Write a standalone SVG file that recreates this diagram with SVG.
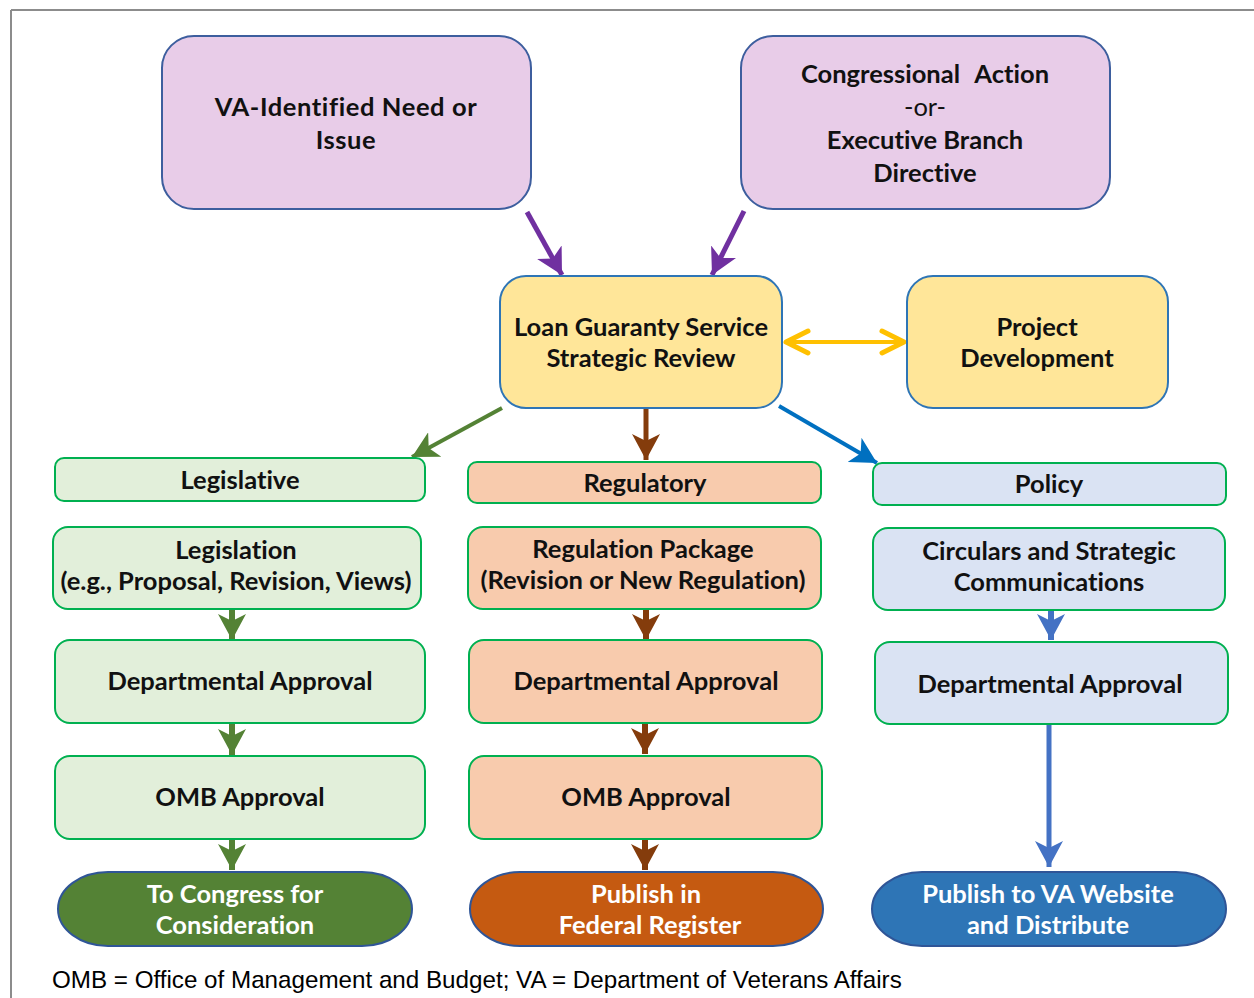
<svg xmlns="http://www.w3.org/2000/svg" width="1254" height="998" viewBox="0 0 1254 998">
<style>
.t{font-family:Lato,"Liberation Sans",sans-serif;font-weight:bold;font-size:25.5px;fill:#111;text-anchor:middle;font-variant-ligatures:none}
.r{font-weight:normal}
.w{fill:#fff}
.purple{fill:#E8CCE8;stroke:#3D5E9E;stroke-width:2}
.yellow{fill:#FFE699;stroke:#2E75B6;stroke-width:2}
.lg{fill:#E2EFDA;stroke:#00B050;stroke-width:2}
.or{fill:#F8CBAD;stroke:#00B050;stroke-width:2}
.bl{fill:#DAE3F3;stroke:#00B050;stroke-width:2}
.ov{stroke:#2F5597;stroke-width:2}
.foot{font-family:"Liberation Sans",Arial,sans-serif;font-size:24.2px;fill:#000}
.c{fill:none}
</style>
<defs>
<marker id="mPurple" markerUnits="userSpaceOnUse" viewBox="0 0 28 28" markerWidth="28" markerHeight="28" refX="26" refY="14" orient="auto"><path d="M0,0 L26,14 L0,28 L7,14 Z" fill="#7030A0"/></marker>
<marker id="mGreen" markerUnits="userSpaceOnUse" viewBox="0 0 28 28" markerWidth="28" markerHeight="28" refX="26" refY="14" orient="auto"><path d="M0,0 L26,14 L0,28 L7,14 Z" fill="#548235"/></marker>
<marker id="mBrown" markerUnits="userSpaceOnUse" viewBox="0 0 28 28" markerWidth="28" markerHeight="28" refX="26" refY="14" orient="auto"><path d="M0,0 L26,14 L0,28 L7,14 Z" fill="#843C0C"/></marker>
<marker id="mBlue" markerUnits="userSpaceOnUse" viewBox="0 0 28 28" markerWidth="28" markerHeight="28" refX="26" refY="14" orient="auto"><path d="M0,0 L26,14 L0,28 L7,14 Z" fill="#0070C0"/></marker>
<marker id="mBlue2" markerUnits="userSpaceOnUse" viewBox="0 0 28 28" markerWidth="28" markerHeight="28" refX="26" refY="14" orient="auto"><path d="M0,0 L26,14 L0,28 L7,14 Z" fill="#4472C4"/></marker>
<marker id="mYellow" markerUnits="userSpaceOnUse" viewBox="0 0 30 30" markerWidth="30" markerHeight="30" refX="26" refY="15" orient="auto-start-reverse"><path d="M4,4 L26,15 L4,26" fill="none" stroke="#FFC000" stroke-width="5" stroke-linecap="round" stroke-linejoin="round"/></marker>
</defs>

<g id="frame">
<line x1="11" y1="10" x2="1254" y2="10" stroke="#8c8c8c" stroke-width="2"/>
<line x1="11" y1="10" x2="11" y2="998" stroke="#8c8c8c" stroke-width="2"/>
</g>

<g id="connectors" class="c">
<line x1="527" y1="212" x2="562" y2="275" stroke="#7030A0" stroke-width="5" marker-end="url(#mPurple)"/>
<line x1="744" y1="211" x2="712" y2="275" stroke="#7030A0" stroke-width="5" marker-end="url(#mPurple)"/>
<line x1="786" y1="342" x2="904" y2="342" stroke="#FFC000" stroke-width="4" marker-start="url(#mYellow)" marker-end="url(#mYellow)"/>
<line x1="502" y1="408" x2="412" y2="457" stroke="#548235" stroke-width="4" marker-end="url(#mGreen)"/>
<line x1="646" y1="409" x2="646" y2="460" stroke="#843C0C" stroke-width="5" marker-end="url(#mBrown)"/>
<line x1="779" y1="406" x2="877" y2="463" stroke="#0070C0" stroke-width="4" marker-end="url(#mBlue)"/>

<line x1="232" y1="609" x2="232" y2="640" stroke="#548235" stroke-width="6" marker-end="url(#mGreen)"/>
<line x1="232" y1="723" x2="232" y2="755" stroke="#548235" stroke-width="6" marker-end="url(#mGreen)"/>
<line x1="232" y1="839" x2="232" y2="870" stroke="#548235" stroke-width="6" marker-end="url(#mGreen)"/>

<line x1="646" y1="609" x2="646" y2="640" stroke="#843C0C" stroke-width="6" marker-end="url(#mBrown)"/>
<line x1="645" y1="723" x2="645" y2="754" stroke="#843C0C" stroke-width="6" marker-end="url(#mBrown)"/>
<line x1="645" y1="839" x2="645" y2="870" stroke="#843C0C" stroke-width="6" marker-end="url(#mBrown)"/>

<line x1="1051" y1="610" x2="1051" y2="640" stroke="#4472C4" stroke-width="6" marker-end="url(#mBlue2)"/>
<line x1="1049" y1="724" x2="1049" y2="867" stroke="#4472C4" stroke-width="5" marker-end="url(#mBlue2)"/>
</g>

<g id="va-need">
<rect class="purple" x="162" y="36" width="369" height="173" rx="32"/>
<text class="t" x="346" y="116" letter-spacing="0.6">VA-Identified Need or</text>
<text class="t" x="346" y="149" letter-spacing="0.6">Issue</text>
</g>

<g id="congressional">
<rect class="purple" x="741" y="36" width="369" height="173" rx="32"/>
<text class="t" x="925" y="83" word-spacing="9">Congressional Action</text>
<text class="t r" x="925" y="116">-or-</text>
<text class="t" x="925" y="149">Executive Branch</text>
<text class="t" x="925" y="182">Directive</text>
</g>

<g id="strategic-review">
<rect class="yellow" x="500" y="276" width="282" height="132" rx="26"/>
<text class="t" x="641" y="336">Loan Guaranty Service</text>
<text class="t" x="641" y="367">Strategic Review</text>
</g>

<g id="project-dev">
<rect class="yellow" x="907" y="276" width="261" height="132" rx="26"/>
<text class="t" x="1037" y="336">Project</text>
<text class="t" x="1037" y="367">Development</text>
</g>

<g id="legislative">
<rect class="lg" x="55" y="458" width="370" height="43" rx="9"/>
<text class="t" x="240" y="489">Legislative</text>
</g>
<g id="regulatory">
<rect class="or" x="468" y="462" width="353" height="41" rx="9"/>
<text class="t" x="645" y="492">Regulatory</text>
</g>
<g id="policy">
<rect class="bl" x="873" y="463" width="353" height="42" rx="9"/>
<text class="t" x="1049" y="493">Policy</text>
</g>

<g id="legislation">
<rect class="lg" x="53" y="527" width="368" height="82" rx="15"/>
<text class="t" x="236" y="559">Legislation</text>
<text class="t" x="236" y="590">(e.g., Proposal, Revision, Views)</text>
</g>
<g id="regulation-package">
<rect class="or" x="468" y="527" width="353" height="82" rx="15"/>
<text class="t" x="643" y="558">Regulation Package</text>
<text class="t" x="643" y="589">(Revision or New Regulation)</text>
</g>
<g id="circulars">
<rect class="bl" x="873" y="528" width="352" height="82" rx="15"/>
<text class="t" x="1049" y="560">Circulars and Strategic</text>
<text class="t" x="1049" y="591">Communications</text>
</g>

<g id="dept-leg">
<rect class="lg" x="55" y="640" width="370" height="83" rx="15"/>
<text class="t" x="240" y="690">Departmental Approval</text>
</g>
<g id="dept-reg">
<rect class="or" x="469" y="640" width="353" height="83" rx="15"/>
<text class="t" x="646" y="690">Departmental Approval</text>
</g>
<g id="dept-pol">
<rect class="bl" x="875" y="642" width="353" height="82" rx="15"/>
<text class="t" x="1050" y="693">Departmental Approval</text>
</g>

<g id="omb-leg">
<rect class="lg" x="55" y="756" width="370" height="83" rx="15"/>
<text class="t" x="240" y="806">OMB Approval</text>
</g>
<g id="omb-reg">
<rect class="or" x="469" y="756" width="353" height="83" rx="15"/>
<text class="t" x="646" y="806">OMB Approval</text>
</g>

<g id="to-congress">
<rect class="ov" x="58" y="872" width="354" height="74" rx="50" ry="37" fill="#548235"/>
<text class="t w" x="235" y="903">To Congress for</text>
<text class="t w" x="235" y="934">Consideration</text>
</g>
<g id="federal-register">
<rect class="ov" x="470" y="872" width="353" height="74" rx="50" ry="37" fill="#C55A11"/>
<text class="t w" x="646" y="903">Publish in</text>
<text class="t w" x="650" y="934">Federal Register</text>
</g>
<g id="va-website">
<rect class="ov" x="872" y="872" width="354" height="74" rx="50" ry="37" fill="#2E75B6"/>
<text class="t w" x="1048" y="903">Publish to VA Website</text>
<text class="t w" x="1048" y="934">and Distribute</text>
</g>

<text class="foot" x="52" y="988">OMB = Office of Management and Budget; VA = Department of Veterans Affairs</text>
</svg>
